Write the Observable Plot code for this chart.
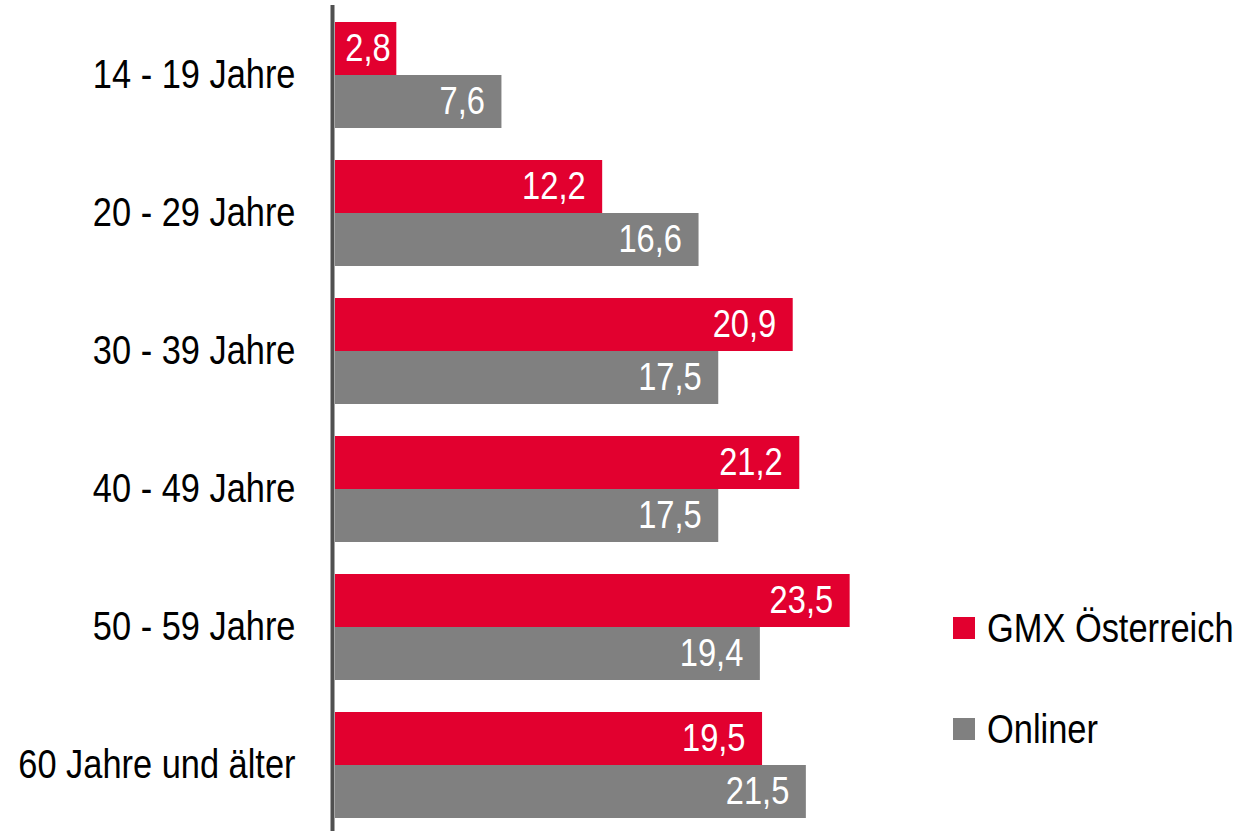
<!DOCTYPE html>
<html>
<head>
<meta charset="utf-8">
<script src="https://cdn.jsdelivr.net/npm/d3@7"></script>
<script src="https://cdn.jsdelivr.net/npm/@observablehq/plot@0.6"></script>
<style>
  html, body { margin: 0; padding: 0; background: #fff; }
  #wrap { position: relative; width: 1240px; height: 831px; font-family: "Liberation Sans", Arial, sans-serif; }
  .legend { position: absolute; left: 953px; height: 40px; line-height: 40px; display: flex; align-items: center; font-size: 40px; color: #000; white-space: nowrap; }
  .legend .sw { width: 22px; height: 22px; margin-right: 12px; flex: none; }
  .legend span { display: inline-block; transform: scaleX(0.86); transform-origin: 0 50%; }
</style>
</head>
<body>
<div id="wrap"></div>
<script>
const ages = ["14 - 19 Jahre", "20 - 29 Jahre", "30 - 39 Jahre", "40 - 49 Jahre", "50 - 59 Jahre", "60 Jahre und älter"];
const gmx = [2.8, 12.2, 20.9, 21.2, 23.5, 19.5];
const onliner = [7.6, 16.6, 17.5, 17.5, 19.4, 21.5];
const seriesNames = ["GMX Österreich", "Onliner"];
const seriesColors = ["#E2002F", "#808080"];

const gData = ages.map((a, i) => ({age: a, value: gmx[i]}));
const oData = ages.map((a, i) => ({age: a, value: onliner[i]}));
const fmt = v => v.toFixed(1).replace(".", ",");
// labels sit inside the bar end; for very short bars they start just after the axis
const labelX = d => Math.max(d.value, 3.3);

const chart = Plot.plot({
  width: 1240,
  height: 831,
  marginLeft: 335,
  marginRight: 29,
  marginTop: 21,
  marginBottom: 12,
  style: {fontFamily: '"Liberation Sans", Arial, sans-serif', fontSize: "40px", color: "#000", background: "#fff"},
  x: {domain: [0, 40], axis: null},
  y: {domain: ages, paddingInner: 0.234, paddingOuter: 0, label: null},
  marks: [
    Plot.barX(gData, {x: "value", y: "age", fill: seriesColors[0], insetBottom: 53}),
    Plot.barX(oData, {x: "value", y: "age", fill: seriesColors[1], insetTop: 53}),
    Plot.text(gData, {x: labelX, y: "age", text: d => fmt(d.value), dy: -26.5, dx: -17, textAnchor: "end", fill: "white", fontSize: 38}),
    Plot.text(oData, {x: labelX, y: "age", text: d => fmt(d.value), dy: 26.5, dx: -17, textAnchor: "end", fill: "white", fontSize: 38}),
    Plot.ruleX([0], {stroke: "#505050", strokeWidth: 4, dx: -3, insetTop: -16, insetBottom: -12}),
    Plot.axisY({tickSize: 0, tickPadding: 40, fontSize: 40, label: null})
  ]
});
// Condense glyphs horizontally (Arial Narrow look) about each text's anchor
chart.querySelectorAll("text").forEach(t => {
  const tr = t.getAttribute("transform") || "";
  t.setAttribute("transform", tr + " scale(0.86,1)");
});
const wrap = document.getElementById("wrap");
wrap.appendChild(chart);
const tops = [608, 709];
seriesNames.forEach((n, i) => {
  const d = document.createElement("div");
  d.className = "legend";
  d.style.top = tops[i] + "px";
  d.innerHTML = `<div class="sw" style="background:${seriesColors[i]}"></div><span>${n}</span>`;
  wrap.appendChild(d);
});
</script>
</body>
</html>
